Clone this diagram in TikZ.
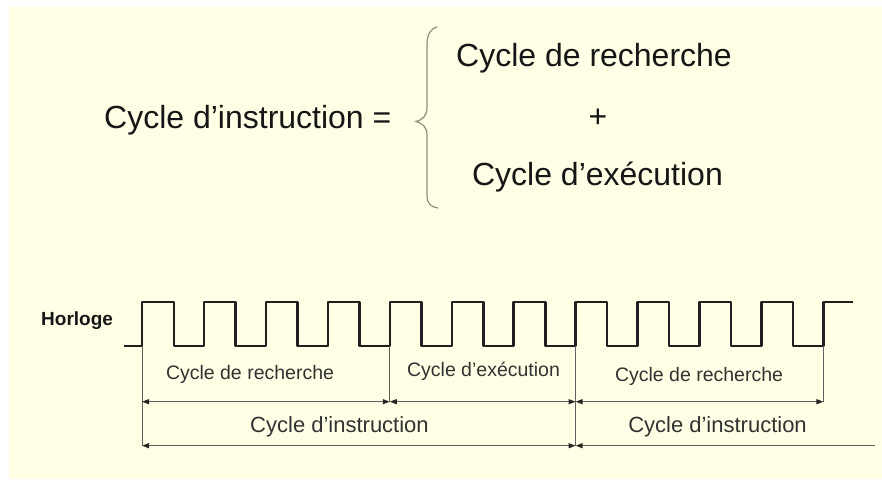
\documentclass[tikz,border=0pt]{standalone}
\usepackage{fontspec}
\setmainfont{Liberation Sans}
\usetikzlibrary{arrows.meta}
\definecolor{bgyellow}{RGB}{255,255,230}
\definecolor{txtdark}{RGB}{22,22,22}
\definecolor{lowtxt}{RGB}{50,50,50}
\definecolor{guidegray}{RGB}{95,95,95}
\definecolor{bracegray}{RGB}{140,140,130}
\begin{document}
\begin{tikzpicture}[x=1pt,y=-1pt,
  bigtext/.style={font=\fontsize{32}{38}\selectfont, text=txtdark, inner sep=0pt},
  phase/.style={font=\fontsize{19.5}{23}\selectfont, text=lowtxt, inner sep=0pt, anchor=base},
  instr/.style={font=\fontsize{22}{26}\selectfont, text=lowtxt, inner sep=0pt, anchor=base},
  clocklabel/.style={font=\fontsize{19}{23}\selectfont\bfseries, text=txtdark, inner sep=0pt, anchor=base west},
  clock/.style={line width=2.4pt, draw=black!88, line join=round},
  guide/.style={line width=1pt, draw=guidegray},
  tip/.tip={Triangle[length=7pt,width=5pt,color=black!85]},
  dimline/.style={line width=1.3pt, draw=guidegray, tip-tip},
  dimleft/.style={line width=1.3pt, draw=guidegray, tip-},
  bracestyle/.style={line width=1.2pt, draw=bracegray, line cap=round}
]
\useasboundingbox (0,0) rectangle (882,479);
\fill[white] (0,0) rectangle (882,479);
\fill[bgyellow] (9,7) rectangle (882,479);

% top equation
\node[bigtext, anchor=base west] (instr) at (104,128.3) {Cycle d’instruction =};
\node[bigtext, anchor=base] (rech) at (594,66.7) {Cycle de recherche};
\node[bigtext] (plus) at (598,118) {+};
\node[bigtext, anchor=base] (exec) at (597.5,185) {Cycle d’exécution};
\draw[bracestyle] (437,27) .. controls (430,29) and (427,35) .. (427,45)
  -- (427,108) .. controls (427,116) and (422,120) .. (416,121.5)
  .. controls (422,123) and (427,127) .. (427,135)
  -- (427,195) .. controls (427,204) and (431,207) .. (438,208);

% clock
\node[clocklabel] (horl) at (41,325.7) {Horloge};
\coordinate (c0) at (124,345.7);
\coordinate (r0) at (142,345.7);
\coordinate (r4) at (389.76,345.7);
\coordinate (r7) at (575.58,345.7);
\coordinate (r11) at (823.34,345.7);
\coordinate (cend) at (853.3,302);
\coordinate (row1) at (0,401.7);
\coordinate (row2) at (0,445.7);
\coordinate (end2) at (875,445.7);

\draw[clock] (c0) -- (r0)
  foreach \i in {0,...,10} { -- ++(0,-43.7) -- ++(31.7,0) -- ++(0,43.7) -- ++(30.24,0) }
  -- ++(0,-43.7) -- (cend);

% guide lines
\draw[guide] (r0) -- (r0 |- row2);
\draw[guide] (r4) -- (r4 |- row1);
\draw[guide] (r7) -- (r7 |- row2);
\draw[guide] (r11) -- (r11 |- row1);

% dimension arrows
\draw[dimline] (r0 |- row1) -- (r4 |- row1);
\draw[dimline] (r4 |- row1) -- (r7 |- row1);
\draw[dimline] (r7 |- row1) -- (r11 |- row1);
\draw[dimline] (r0 |- row2) -- (r7 |- row2);
\draw[dimleft] (r7 |- row2) -- (end2);

% labels
\node[phase] (p1) at (250,379) {Cycle de recherche};
\node[phase] (p2) at (483.5,376.7) {Cycle d’exécution};
\node[phase] (p3) at (699,381.7) {Cycle de recherche};
\node[instr] (i1) at (339.5,432.7) {Cycle d’instruction};
\node[instr] (i2) at (717.5,432.7) {Cycle d’instruction};
\end{tikzpicture}
\end{document}
